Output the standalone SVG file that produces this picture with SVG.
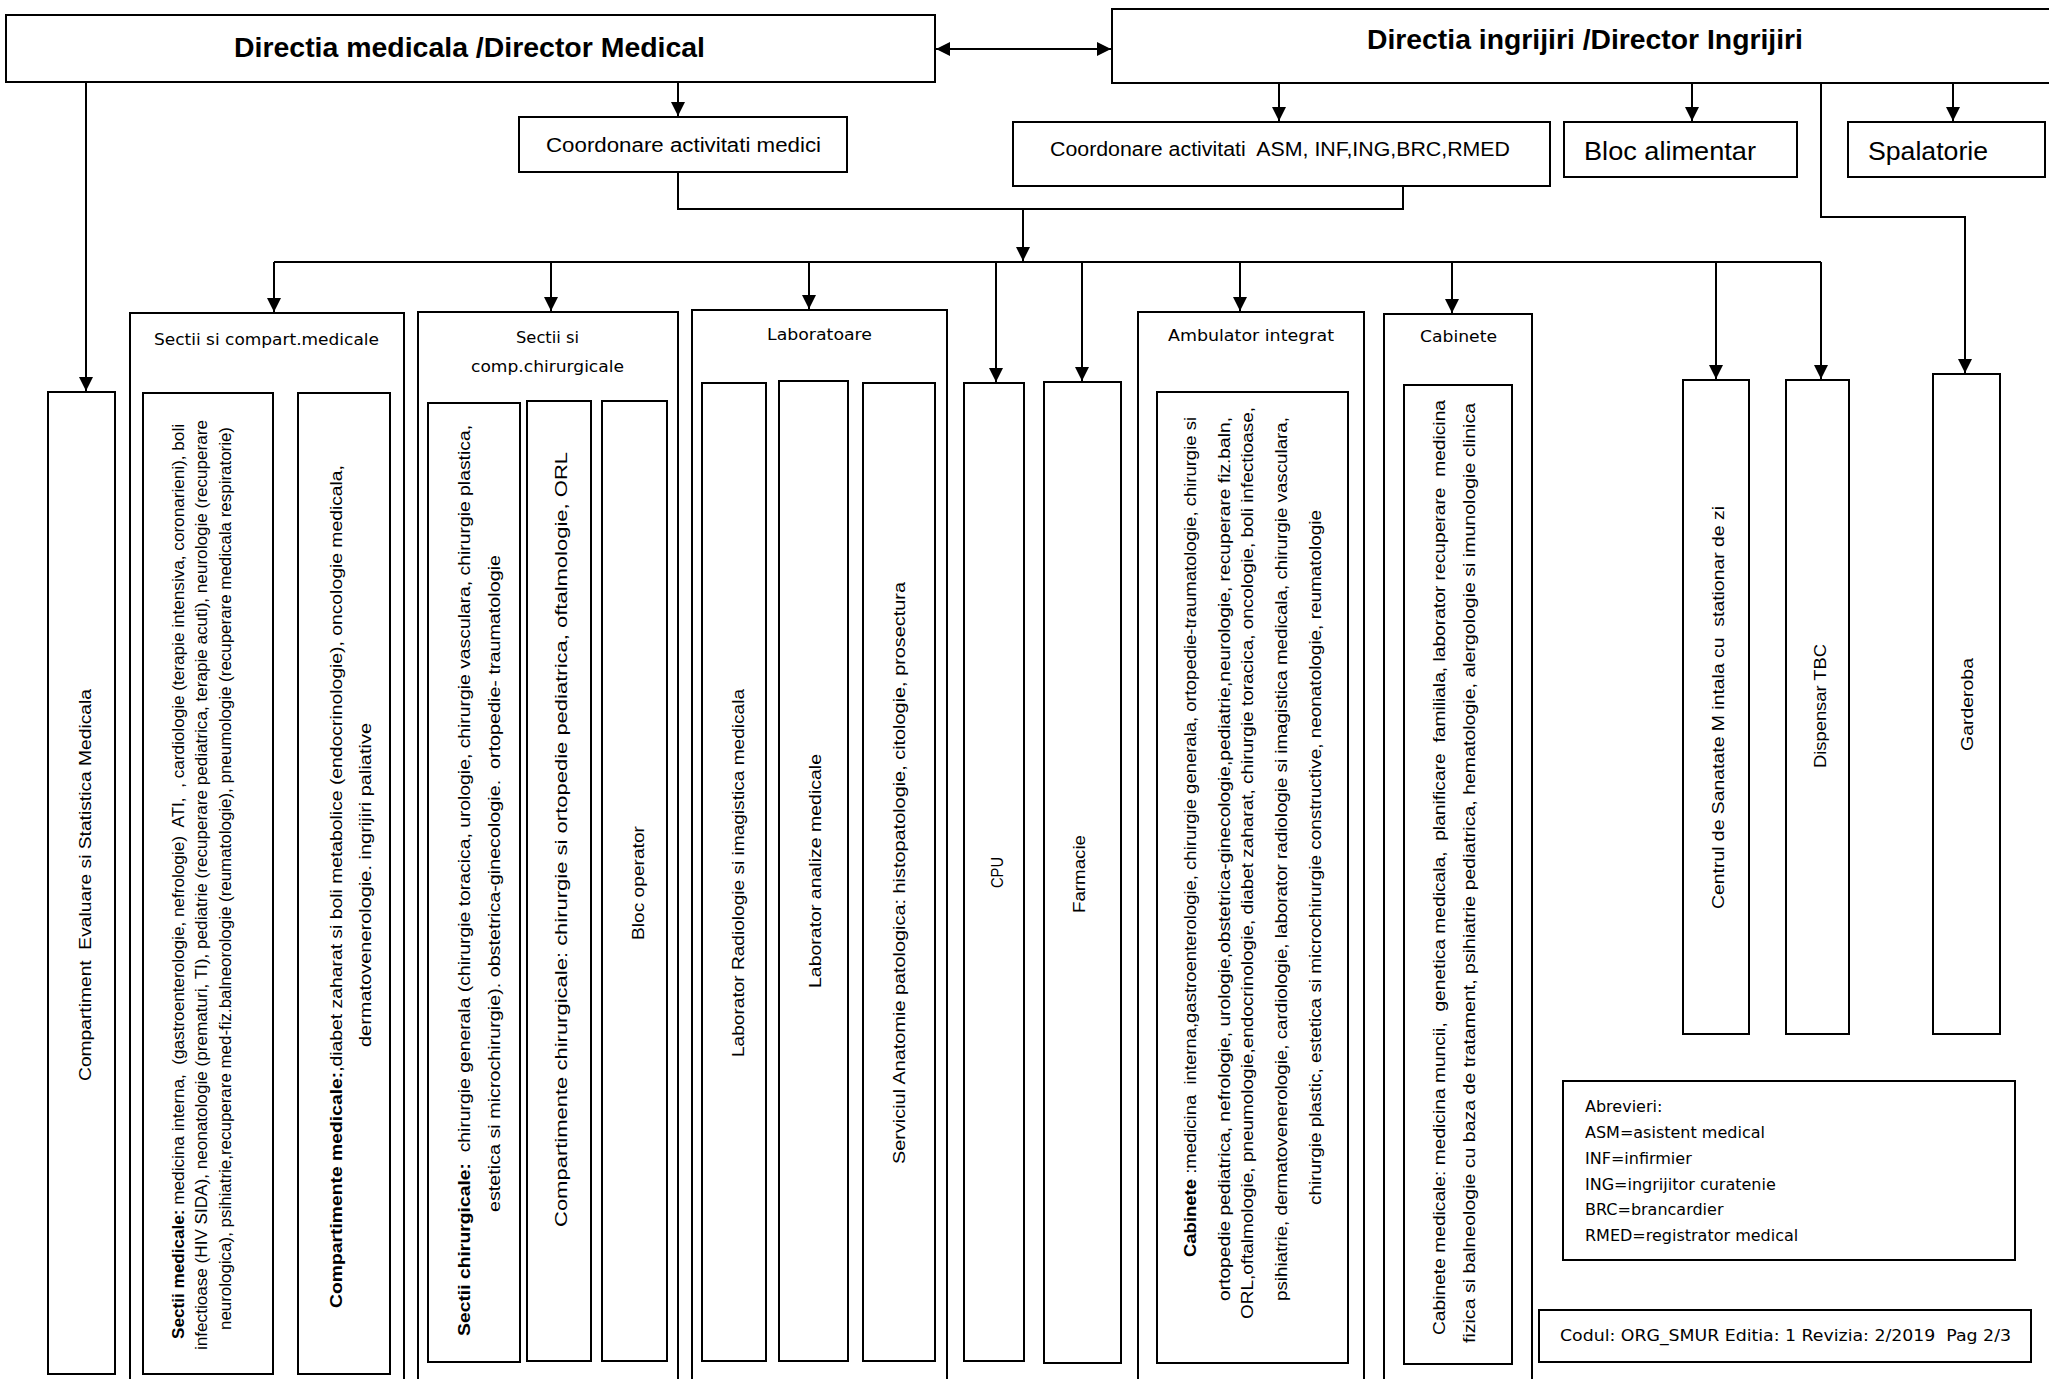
<svg xmlns="http://www.w3.org/2000/svg" width="2049" height="1379" viewBox="0 0 2049 1379">
<style>
.box{fill:#fff;stroke:#000;stroke-width:2}
.ln{fill:none;stroke:#000;stroke-width:2}
.arr{marker-end:url(#ah)}
text{fill:#000;white-space:pre}
.c{font-family:"Liberation Sans",Arial,sans-serif}
.d{font-family:"DejaVu Sans",Verdana,sans-serif}
.h{font-size:27px;font-weight:bold}
.m{font-size:20px}
.l{font-size:25px}
.s{font-size:15px}
.v{font-size:16px}
.v1{font-size:17px}
.b{font-weight:bold}
</style>
<defs>
<marker id="ah" viewBox="0 0 10 10" refX="10" refY="5" markerWidth="15" markerHeight="14" markerUnits="userSpaceOnUse" orient="auto-start-reverse">
<path d="M0,0 L10,5 L0,10 z" fill="#000"/>
</marker>
</defs>

<g id="connectors">
<path class="ln arr" d="M86,82 V391"/>
<path class="ln arr" d="M678,82 V116"/>
<path class="ln" d="M936,49 H1111" marker-start="url(#ah)" marker-end="url(#ah)"/>
<path class="ln arr" d="M1279,83 V121"/>
<path class="ln arr" d="M1692,83 V121"/>
<path class="ln arr" d="M1953,83 V121"/>
<path class="ln arr" d="M1821,83 V217 H1965 V373"/>
<path class="ln" d="M678,172 V209 H1403 V186"/>
<path class="ln arr" d="M1023,209 V261"/>
<path class="ln" d="M274,262 H1821"/>
<path class="ln arr" d="M274,262 V312"/>
<path class="ln arr" d="M551,262 V311"/>
<path class="ln arr" d="M809,262 V309"/>
<path class="ln arr" d="M996,262 V382"/>
<path class="ln arr" d="M1082,262 V381"/>
<path class="ln arr" d="M1240,262 V311"/>
<path class="ln arr" d="M1452,262 V313"/>
<path class="ln arr" d="M1716,262 V379"/>
<path class="ln arr" d="M1821,262 V379"/>
</g>

<g id="director-medical">
<rect class="box" x="6" y="15" width="929" height="67"/>
<text class="c h" x="234" y="57" textLength="471" lengthAdjust="spacingAndGlyphs">Directia medicala /Director Medical</text>
</g>
<g id="director-ingrijiri">
<rect class="box" x="1112" y="9" width="950" height="74"/>
<text class="c h" x="1367" y="49" textLength="436" lengthAdjust="spacingAndGlyphs">Directia ingrijiri /Director Ingrijiri</text>
</g>
<g id="coord-medici">
<rect class="box" x="519" y="117" width="328" height="55"/>
<text class="c m" x="546" y="152" textLength="275" lengthAdjust="spacingAndGlyphs">Coordonare activitati medici</text>
</g>
<g id="coord-asm">
<rect class="box" x="1013" y="122" width="537" height="64"/>
<text class="c m" x="1050" y="156" textLength="460" lengthAdjust="spacingAndGlyphs">Coordonare activitati  ASM, INF,ING,BRC,RMED</text>
</g>
<g id="bloc-alimentar">
<rect class="box" x="1564" y="122" width="233" height="55"/>
<text class="c l" x="1584" y="160" textLength="172" lengthAdjust="spacingAndGlyphs">Bloc alimentar</text>
</g>
<g id="spalatorie">
<rect class="box" x="1848" y="122" width="197" height="55"/>
<text class="c l" x="1868" y="160" textLength="120" lengthAdjust="spacingAndGlyphs">Spalatorie</text>
</g>

<g id="comp-evaluare">
<rect class="box" x="48" y="392" width="67" height="982"/>
<text class="c v1" transform="translate(91,1081) rotate(-90)" textLength="392" lengthAdjust="spacingAndGlyphs">Compartiment  Evaluare si Statistica Medicala</text>
</g>

<g id="sectii-medicale">
<rect class="box" x="130" y="313" width="274" height="1080"/>
<text class="d s" x="154" y="345" textLength="225" lengthAdjust="spacingAndGlyphs">Sectii si compart.medicale</text>
<rect class="box" x="143" y="393" width="130" height="981"/>
<text class="c v" transform="translate(184,1339) rotate(-90)" textLength="915" lengthAdjust="spacingAndGlyphs"><tspan class="b">Sectii medicale:</tspan> medicina interna,  (gastroenterologie, nefrologie)  ATI,  , cardiologie (terapie intensiva, coronarieni), boli</text>
<text class="c v" transform="translate(207,1350) rotate(-90)" textLength="930" lengthAdjust="spacingAndGlyphs">infectioase (HIV SIDA), neonatologie (prematuri, TI), pediatrie (recuperare pediatrica, terapie acuti), neurologie (recuperare</text>
<text class="c v" transform="translate(231,1330) rotate(-90)" textLength="903" lengthAdjust="spacingAndGlyphs">neurologica), psihiatrie,recuperare med-fiz.balneorologie (reumatologie), pneumologie (recuperare medicala respiratorie)</text>
<rect class="box" x="298" y="393" width="92" height="981"/>
<text class="c v" transform="translate(342,1308) rotate(-90)" textLength="843" lengthAdjust="spacingAndGlyphs"><tspan class="b">Compartimente medicale:</tspan>,diabet zaharat si boli metabolice (endocrinologie), oncologie medicala,</text>
<text class="c v" transform="translate(371,1047) rotate(-90)" textLength="324" lengthAdjust="spacingAndGlyphs">dermatovenerologie. ingrijiri paliative</text>
</g>

<g id="sectii-chirurgicale">
<rect class="box" x="418" y="312" width="260" height="1080"/>
<text class="d s" x="516" y="343" textLength="63" lengthAdjust="spacingAndGlyphs">Sectii si</text>
<text class="d s" x="471" y="372" textLength="153" lengthAdjust="spacingAndGlyphs">comp.chirurgicale</text>
<rect class="box" x="428" y="403" width="92" height="959"/>
<text class="c v" transform="translate(470,1336) rotate(-90)" textLength="911" lengthAdjust="spacingAndGlyphs"><tspan class="b">Sectii chirurgicale:</tspan>  chirurgie generala (chirurgie toracica, urologie, chirurgie vasculara, chirurgie plastica,</text>
<text class="c v" transform="translate(500,1212) rotate(-90)" textLength="657" lengthAdjust="spacingAndGlyphs">estetica si microchirurgie). obstetrica-ginecologie.  ortopedie- traumatologie</text>
<rect class="box" x="527" y="401" width="64" height="960"/>
<text class="c v1" transform="translate(567,1227) rotate(-90)" textLength="775" lengthAdjust="spacingAndGlyphs">Compartimente chirurgicale: chirurgie si ortopedie pediatrica, oftalmologie, ORL</text>
<rect class="box" x="602" y="401" width="65" height="960"/>
<text class="c v1" transform="translate(644,940) rotate(-90)" textLength="114" lengthAdjust="spacingAndGlyphs">Bloc operator</text>
</g>

<g id="laboratoare">
<rect class="box" x="692" y="310" width="255" height="1082"/>
<text class="d s" x="767" y="340" textLength="105" lengthAdjust="spacingAndGlyphs">Laboratoare</text>
<rect class="box" x="702" y="383" width="64" height="978"/>
<text class="c v1" transform="translate(744,1057) rotate(-90)" textLength="368" lengthAdjust="spacingAndGlyphs">Laborator Radiologie si imagistica medicala</text>
<rect class="box" x="779" y="381" width="69" height="980"/>
<text class="c v1" transform="translate(821,988) rotate(-90)" textLength="234" lengthAdjust="spacingAndGlyphs">Laborator analize medicale</text>
<rect class="box" x="863" y="383" width="72" height="978"/>
<text class="c v1" transform="translate(905,1164) rotate(-90)" textLength="582" lengthAdjust="spacingAndGlyphs">Serviciul Anatomie patologica: histopatologie, citologie, prosectura</text>
</g>

<g id="cpu">
<rect class="box" x="964" y="383" width="60" height="978"/>
<text class="c v1" transform="translate(1003,888) rotate(-90)" textLength="31" lengthAdjust="spacingAndGlyphs">CPU</text>
</g>
<g id="farmacie">
<rect class="box" x="1044" y="382" width="77" height="981"/>
<text class="c v1" transform="translate(1085,913) rotate(-90)" textLength="78" lengthAdjust="spacingAndGlyphs">Farmacie</text>
</g>

<g id="ambulator">
<rect class="box" x="1138" y="312" width="226" height="1080"/>
<text class="d s" x="1168" y="341" textLength="166" lengthAdjust="spacingAndGlyphs">Ambulator integrat</text>
<rect class="box" x="1157" y="392" width="191" height="971"/>
<text class="c v" transform="translate(1196,1257) rotate(-90)" textLength="840" lengthAdjust="spacingAndGlyphs"><tspan class="b">Cabinete</tspan> :medicina  interna,gastroenterologie, chirurgie generala, ortopedie-traumatologie, chirurgie si</text>
<text class="c v" transform="translate(1230,1301) rotate(-90)" textLength="884" lengthAdjust="spacingAndGlyphs">ortopedie pediatrica, nefrologie, urologie,obstetrica-ginecologie,pediatrie,neurologie, recuperare fiz.baln,</text>
<text class="c v" transform="translate(1253,1319) rotate(-90)" textLength="912" lengthAdjust="spacingAndGlyphs">ORL,oftalmologie, pneumologie,endocrinologie, diabet zaharat, chirurgie toracica, oncologie, boli infectioase,</text>
<text class="c v" transform="translate(1287,1301) rotate(-90)" textLength="884" lengthAdjust="spacingAndGlyphs">psihiatrie, dermatovenerologie, cardiologie, laborator radiologie si imagistica medicala, chirurgie vasculara,</text>
<text class="c v" transform="translate(1321,1205) rotate(-90)" textLength="695" lengthAdjust="spacingAndGlyphs">chirurgie plastic, estetica si microchirurgie constructive, neonatologie, reumatologie</text>
</g>

<g id="cabinete">
<rect class="box" x="1384" y="314" width="148" height="1078"/>
<text class="d s" x="1420" y="342" textLength="77" lengthAdjust="spacingAndGlyphs">Cabinete</text>
<rect class="box" x="1404" y="385" width="108" height="979"/>
<text class="c v" transform="translate(1445,1335) rotate(-90)" textLength="935" lengthAdjust="spacingAndGlyphs">Cabinete medicale: medicina muncii,  genetica medicala,  planificare  familiala, laborator recuperare  medicina</text>
<text class="c v" transform="translate(1475,1343) rotate(-90)" textLength="940" lengthAdjust="spacingAndGlyphs">fizica si balneologie cu baza de tratament, psihiatrie pediatrica, hematologie, alergologie si imunologie clinica</text>
</g>

<g id="centrul">
<rect class="box" x="1683" y="380" width="66" height="654"/>
<text class="c v1" transform="translate(1724,909) rotate(-90)" textLength="403" lengthAdjust="spacingAndGlyphs">Centrul de Sanatate M intala cu  stationar de zi</text>
</g>
<g id="dispensar">
<rect class="box" x="1786" y="380" width="63" height="654"/>
<text class="c v1" transform="translate(1826,768) rotate(-90)" textLength="124" lengthAdjust="spacingAndGlyphs">Dispensar TBC</text>
</g>
<g id="garderoba">
<rect class="box" x="1933" y="374" width="67" height="660"/>
<text class="c v1" transform="translate(1973,751) rotate(-90)" textLength="93" lengthAdjust="spacingAndGlyphs">Garderoba</text>
</g>

<g id="abrevieri">
<rect class="box" x="1563" y="1081" width="452" height="179"/>
<text class="d v" x="1585" y="1112">Abrevieri:</text>
<text class="d v" x="1585" y="1138">ASM=asistent medical</text>
<text class="d v" x="1585" y="1164">INF=infirmier</text>
<text class="d v" x="1585" y="1190">ING=ingrijitor curatenie</text>
<text class="d v" x="1585" y="1215">BRC=brancardier</text>
<text class="d v" x="1585" y="1241">RMED=registrator medical</text>
</g>
<g id="codul">
<rect class="box" x="1539" y="1310" width="492" height="52"/>
<text class="d v" x="1560" y="1341" textLength="451" lengthAdjust="spacingAndGlyphs">Codul: ORG_SMUR Editia: 1 Revizia: 2/2019  Pag 2/3</text>
</g>
</svg>
